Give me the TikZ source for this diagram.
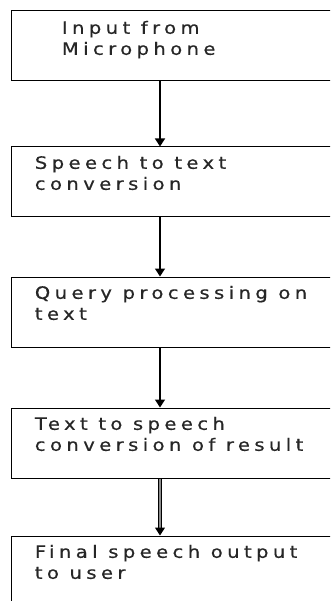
\documentclass[tikz,border=0pt]{standalone}
\usepackage{fontspec}
\setmainfont{DejaVu Sans}[FakeStretch=1.15,FakeBold=0.6,LetterSpace=26]
\usetikzlibrary{calc,arrows.meta}

\begin{document}
\begin{tikzpicture}[x=1pt,y=-1pt,>={Triangle[width=10pt,length=8pt]},thick,
  stage/.style={draw,line width=1pt,rectangle,minimum width=330pt,minimum height=70pt,inner sep=0pt},
  stage text/.style={anchor=north west,inner sep=0pt,align=left,text=black!85,font=\fontsize{17}{21}\selectfont}]

    \useasboundingbox (0,0) rectangle (330,601);
    \clip (0,0) rectangle (330,601);

    \node[stage] (s1) at (176,46) {};
    \node[stage] (s2) at ($(s1)+(0,136)$) {};
    \node[stage] (s3) at ($(s2)+(0,130)$) {};
    \node[stage] (s4) at ($(s3)+(0,131)$) {};
    \node[stage] (s5) at ($(s4)+(0,128)$) {};

    \node[stage text] (t1) at ($(s1.north west)+(51,10)$) {Input from\\Microphone};
    \node[stage text] (t2) at ($(s2.north west)+(24,9)$) {Speech to text\\conversion};
    \node[stage text] (t3) at ($(s3.north west)+(24,9)$) {Query processing on\\text};
    \node[stage text] (t4) at ($(s4.north west)+(24,9)$) {Text to speech\\conversion of result};
    \node[stage text] (t5) at ($(s5.north west)+(24,9)$) {Final speech output\\to user};

    \coordinate (axis) at (160,0);

    \path[->,line width=1.3pt]
        (s1.south -| axis) edge (s2.north -| axis)
        (s2.south -| axis) edge (s3.north -| axis)
        (s3.south -| axis) edge (s4.north -| axis)
    ;
    \draw[line width=1pt,double=black!45,double distance=2.5pt,-{Triangle[width=10pt,length=8pt,color=black,fill=black]}]
        (s4.south -| axis) -- (s5.north -| axis);
\end{tikzpicture}
\end{document}
